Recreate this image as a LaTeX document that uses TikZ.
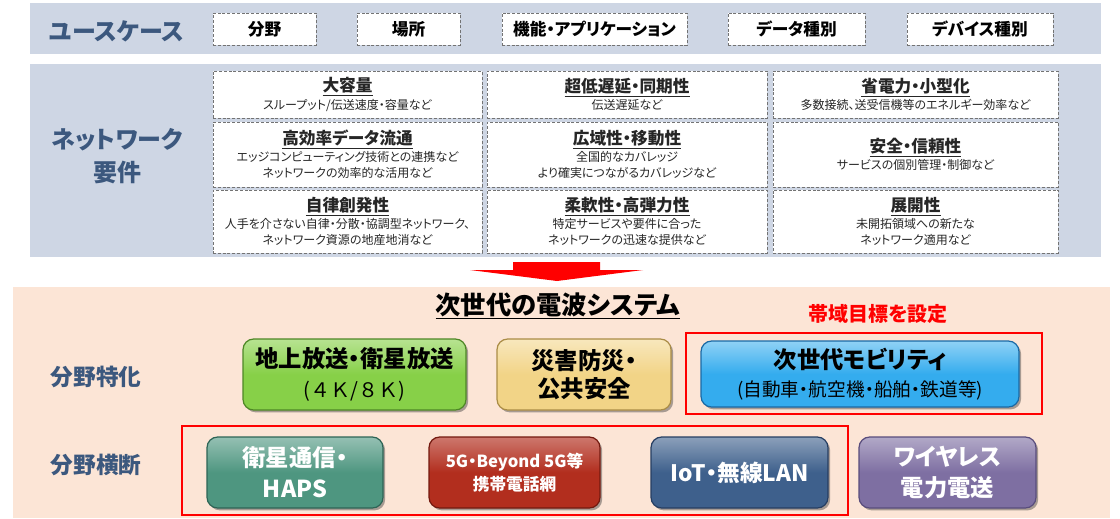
\documentclass[tikz,border=0pt]{standalone}
\usepackage{fontspec}
\setmainfont{Noto Sans CJK JP}[RawFeature={+palt}]
\usetikzlibrary{shadows}
\definecolor{bandc}{RGB}{206,214,228}
\definecolor{labc}{RGB}{60,88,126}
\definecolor{peach}{RGB}{252,229,214}
\definecolor{dashc}{RGB}{115,115,115}
\definecolor{cgrn}{RGB}{135,208,72}
\definecolor{cgrnd}{RGB}{78,135,38}
\definecolor{cylw}{RGB}{242,212,135}
\definecolor{cylwd}{RGB}{170,140,70}
\definecolor{csky}{RGB}{52,172,238}
\definecolor{cskyd}{RGB}{25,105,165}
\definecolor{cteal}{RGB}{78,150,128}
\definecolor{cteald}{RGB}{45,100,85}
\definecolor{cbrick}{RGB}{178,46,30}
\definecolor{cbrickd}{RGB}{115,25,15}
\definecolor{csteel}{RGB}{62,96,140}
\definecolor{csteeld}{RGB}{38,62,98}
\definecolor{clav}{RGB}{126,111,162}
\definecolor{clavd}{RGB}{88,76,124}
\newcommand\cellt[1]{\underline{\fontsize{12.5}{14}\selectfont\bfseries #1}}
\tikzset{
  sz/.style 2 args={minimum width=#1*0.75pt, minimum height=#2*0.75pt},
  dbox/.style={draw=dashc, dash pattern=on 2.2pt off 1.4pt, line width=0.7pt, fill=white,
    inner sep=0pt, align=center},
  cellbox/.style={dbox, text=black!85, font=\fontsize{9}{12}\selectfont},
  topbox/.style={dbox, font=\fontsize{12.5}{14}\selectfont\bfseries},
  lab/.style={text=labc, font=\fontsize{17}{25}\selectfont\bfseries, align=center, inner sep=0pt},
  btn/.style={rounded corners=8pt, line width=0.9pt, align=center, inner sep=0pt,
    drop shadow={shadow xshift=1.6pt, shadow yshift=-1.8pt, opacity=0.45, fill=black!75}},
  rframe/.style={draw=red, line width=2.2pt, inner sep=0pt},
}
\begin{document}
\begin{tikzpicture}[x=0.75pt,y=-0.75pt]
\useasboundingbox (0,0) rectangle (1120,518);
\fill[white] (0,0) rectangle (1120,518);
% bands
\fill[bandc] (30,3) rectangle (1101,54);
\fill[bandc] (30,64) rectangle (1101,257);
\fill[peach] (13,287) rectangle (1110,518);

% use cases
\node[text=labc, font=\fontsize{18}{20}\selectfont\bfseries, inner sep=0pt] (uc) at (117,31) {ユースケース};
\node[topbox, sz={103}{32}] (ta) at (264.5,29) {分野};
\node[topbox, sz={103}{32}] (tb) at (408.5,29) {場所};
\node[topbox, sz={185}{32}] (tc) at (594.5,29) {機能・アプリケーション};
\node[topbox, sz={137}{32}] (td) at (796.5,29) {データ種別};
\node[topbox, sz={146}{32}] (te) at (980,29) {デバイス種別};

% network requirements
\node[lab, font=\fontsize{18}{25}\selectfont\bfseries] (nw) at (117,156) {ネットワーク\\要件};
\node[cellbox, sz={269}{47}] (c11) at (347.5,94.5) {\cellt{大容量}\\[1pt]スループット/伝送速度・容量など};
\node[cellbox, sz={280}{47}] (c12) at (627,94.5) {\cellt{超低遅延・同期性}\\[1pt]伝送遅延など};
\node[cellbox, sz={285}{47}] (c13) at (915.5,94.5) {\cellt{省電力・小型化}\\[1pt]多数接続、送受信機等のエネルギー効率など};
\node[cellbox, sz={269}{65}] (c21) at (347.5,154.5) {\cellt{高効率データ流通}\\[1pt]エッジコンピューティング技術との連携など\\ネットワークの効率的な活用など};
\node[cellbox, sz={280}{65}] (c22) at (627,154.5) {\cellt{広域性・移動性}\\[1pt]全国的なカバレッジ\\より確実につながるカバレッジなど};
\node[cellbox, sz={285}{65}] (c23) at (915.5,154.5) {\cellt{安全・信頼性}\\[1pt]サービスの個別管理・制御など};
\node[cellbox, sz={269}{63}] (c31) at (347.5,221.5) {\cellt{自律創発性}\\[1pt]人手を介さない自律・分散・協調型ネットワーク、\\ネットワーク資源の地産地消など};
\node[cellbox, sz={280}{63}] (c32) at (627,221.5) {\cellt{柔軟性・高弾力性}\\[1pt]特定サービスや要件に合った\\ネットワークの迅速な提供など};
\node[cellbox, sz={285}{63}] (c33) at (915.5,221.5) {\cellt{展開性}\\[1pt]未開拓領域への新たな\\ネットワーク適用など};

% big arrow
\fill[red] (513,262) -- (600,262) -- (600,270) -- (643,270) -- (557,281) -- (470,270) -- (513,270) -- cycle;

% next generation radio systems
\node[font=\fontsize{19}{22}\selectfont\bfseries, inner sep=0pt] (title) at (558,306) {\underline{次世代の電波システム}};
\node[text=red, font=\fontsize{15}{17}\selectfont\bfseries, inner sep=0pt] (tag) at (878,314) {帯域目標を設定};
\node[lab] (l1) at (96,377) {分野特化};
\node[lab] (l2) at (96,465) {分野横断};

\node[rframe, sz={356}{81}] (f1) at (864,373.5) {};
\node[rframe, sz={666}{89}] (f2) at (515,470.5) {};

\node[btn, draw=cgrnd, top color=cgrn!60!white, bottom color=cgrn, middle color=cgrn, sz={223}{71},
  font=\fontsize{17.5}{22}\selectfont\bfseries] (b1) at (354.5,374.5)
  {地上放送・衛星放送\\{\mdseries\fontsize{15}{22}\selectfont\addfontfeatures{RawFeature=-palt}(４Ｋ/８Ｋ)}};
\node[btn, draw=cylwd, top color=cylw!55!white, bottom color=cylw, middle color=cylw, sz={174}{71},
  font=\fontsize{17.5}{21}\selectfont\bfseries] (b2) at (584,374.5) {災害防災・\\公共安全};
\node[btn, draw=cskyd, top color=csky!55!white, bottom color=csky, middle color=csky, sz={318}{66},
  font=\fontsize{17.5}{21}\selectfont\bfseries] (b3) at (860,374)
  {次世代モビリティ\\{\mdseries\fontsize{14}{21}\selectfont (自動車・航空機・船舶・鉄道等)}};

\node[btn, draw=cteald, top color=cteal!60!white, bottom color=cteal, middle color=cteal, sz={176}{71},
  text=white, font=\fontsize{17.5}{23}\selectfont\bfseries] (b4) at (295,472.5) {衛星通信・\\HAPS};
\node[btn, draw=cbrickd, top color=cbrick!65!white, bottom color=cbrick, middle color=cbrick, sz={171}{71},
  text=white, font=\fontsize{12.5}{17}\selectfont\bfseries] (b5) at (514.5,472.5) {5G・Beyond 5G等\\携帯電話網};
\node[btn, draw=csteeld, top color=csteel!60!white, bottom color=csteel, middle color=csteel, sz={177}{71},
  text=white, font=\fontsize{17}{21}\selectfont\bfseries] (b6) at (739.5,472.5) {IoT・無線LAN};
\node[btn, draw=clavd, top color=clav!60!white, bottom color=clav, middle color=clav, sz={177}{71},
  text=white, font=\fontsize{17.5}{23}\selectfont\bfseries] (b7) at (947.5,472.5) {ワイヤレス\\電力電送};
\end{tikzpicture}
\end{document}
